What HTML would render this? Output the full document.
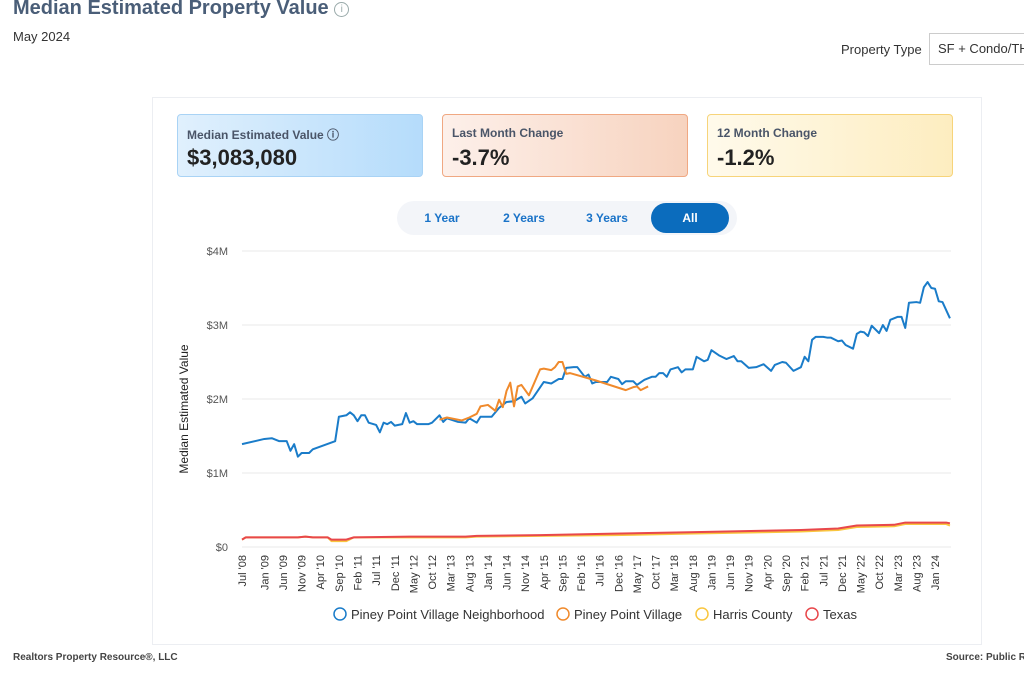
<!DOCTYPE html>
<html><head><meta charset="utf-8">
<style>
body{margin:0;width:1024px;height:673px;overflow:hidden;background:#fff;font-family:"Liberation Sans",sans-serif;position:relative}
.abs{position:absolute}
.kpi{position:absolute;top:114px;height:63px;width:246px;border-radius:4px;box-sizing:border-box}
.kpi .l{position:absolute;left:9px;top:11px;font-size:12px;color:#4a5568;font-weight:bold}
.kpi .v{position:absolute;left:9px;top:30px;font-size:22px;color:#222;font-weight:bold}
.seg{position:absolute;top:0;height:30px;line-height:30px;font-size:12px;color:#1a73c8;font-weight:bold;text-align:center}
</style></head><body>
<div class="abs" style="left:13px;top:-3px;font-size:20px;font-weight:bold;color:#4a5e78">Median Estimated Property Value <span style="display:inline-block;width:13px;height:13px;border:1px solid #9aa;border-radius:50%;font-size:10px;line-height:13px;text-align:center;color:#9aa;font-weight:normal;vertical-align:2px">i</span></div>
<div class="abs" style="left:13px;top:29px;font-size:13px;color:#333">May 2024</div>
<div class="abs" style="left:841px;top:42px;font-size:13px;color:#333">Property Type</div>
<div class="abs" style="left:929px;top:33px;width:110px;height:32px;border:1px solid #ccc;box-sizing:border-box;font-size:13px;line-height:30px;padding-left:8px;color:#333;white-space:nowrap">SF + Condo/TH</div>
<div class="abs" style="left:152px;top:97px;width:830px;height:548px;border:1px solid #eceef2;box-sizing:border-box"></div>
<div class="kpi" style="left:177px;background:linear-gradient(90deg,#e0f0fd,#b5dcfb);border:1px solid #a9d3f5">
<div class="l">Median Estimated Value ⓘ</div><div class="v">$3,083,080</div></div>
<div class="kpi" style="left:442px;background:linear-gradient(90deg,#fdf0ea,#f7d3bf);border:1px solid #f0a882">
<div class="l">Last Month Change</div><div class="v">-3.7%</div></div>
<div class="kpi" style="left:707px;background:linear-gradient(90deg,#fffaeb,#fdedc0);border:1px solid #f7d47a">
<div class="l">12 Month Change</div><div class="v">-1.2%</div></div>
<div class="abs" style="left:397px;top:201px;width:340px;height:34px;background:#f3f5f9;border-radius:17px">
<div class="seg" style="left:10px;top:2px;width:70px">1 Year</div>
<div class="seg" style="left:92px;top:2px;width:70px">2 Years</div>
<div class="seg" style="left:175px;top:2px;width:70px">3 Years</div>
<div class="seg" style="left:254px;top:2px;width:78px;background:#0b6cbd;color:#fff;border-radius:15px">All</div>
</div>
<svg class="abs" style="left:0;top:0" width="1024" height="673" id="chart"></svg>
<div class="abs" style="left:13px;top:652px;font-size:10px;font-weight:bold;color:#444">Realtors Property Resource®, LLC</div>
<div class="abs" style="left:946px;top:652px;font-size:10px;font-weight:bold;color:#444;white-space:nowrap">Source: Public Records</div>
<script>
const yTicks=[0,1,2,3,4];
const yTickLabels=["$0","$1M","$2M","$3M","$4M"];
const xTickMonths=[0,6,11,16,21,26,31,36,41,46,51,56,61,66,71,76,81,86,91,96,101,106,111,116,121,126,131,136,141,146,151,156,161,166,171,176,181,186];
const xTickLabels=["Jul '08","Jan '09","Jun '09","Nov '09","Apr '10","Sep '10","Feb '11","Jul '11","Dec '11","May '12","Oct '12","Mar '13","Aug '13","Jan '14","Jun '14","Nov '14","Apr '15","Sep '15","Feb '16","Jul '16","Dec '16","May '17","Oct '17","Mar '18","Aug '18","Jan '19","Jun '19","Nov '19","Apr '20","Sep '20","Feb '21","Jul '21","Dec '21","May '22","Oct '22","Mar '23","Aug '23","Jan '24"];
const neighMonths=[0,6,8,10,12,13,14,15,16,18,19,25,26,28,29,30,31,32,33,34,36,37,38,39,40,41,43,44,45,46,47,50,51,53,54,55,58,60,61,63,64,67,69,71,73,75,76,78,81,83,85,86,87,89,90,92,93,94,95,98,99,101,102,103,105,106,108,110,111,112,113,114,115,117,118,119,121,122,124,125,126,128,130,132,133,134,136,138,140,142,143,145,146,148,150,151,152,153,154,156,157,158,160,161,162,164,165,166,167,168,169,171,172,173,174,176,177,178,179,181,182,183,184,185,186,187,188,190];
const neighVals=[1.39,1.46,1.47,1.43,1.43,1.30,1.39,1.22,1.27,1.27,1.32,1.43,1.76,1.78,1.82,1.78,1.70,1.78,1.78,1.68,1.65,1.55,1.68,1.66,1.69,1.64,1.66,1.81,1.68,1.70,1.66,1.66,1.68,1.78,1.69,1.74,1.69,1.68,1.74,1.68,1.76,1.76,1.88,1.96,1.97,2.03,1.94,2.01,2.23,2.21,2.27,2.27,2.42,2.43,2.43,2.30,2.33,2.21,2.23,2.23,2.30,2.27,2.20,2.24,2.24,2.19,2.26,2.30,2.30,2.35,2.35,2.30,2.40,2.43,2.36,2.40,2.40,2.57,2.51,2.53,2.66,2.59,2.54,2.58,2.51,2.51,2.42,2.43,2.47,2.38,2.46,2.50,2.49,2.38,2.43,2.57,2.51,2.80,2.84,2.84,2.83,2.83,2.78,2.79,2.73,2.68,2.88,2.91,2.90,2.85,2.99,2.89,3.00,2.92,3.07,3.11,3.11,2.96,3.30,3.31,3.30,3.51,3.58,3.50,3.49,3.32,3.31,3.09];
const villageMonths=[53,55,59,61,63,64,66,68,69,70,71,72,73,74,75,77,80,81,83,84,85,86,87,88,95,103,105,106,107,109];
const villageVals=[1.72,1.75,1.71,1.75,1.80,1.90,1.92,1.84,1.99,1.89,2.11,2.22,1.90,2.17,2.19,2.05,2.40,2.41,2.39,2.43,2.50,2.50,2.34,2.35,2.25,2.12,2.16,2.17,2.12,2.17];
const harrisMonths=[0,1,15,17,19,23,24,28,30,45,60,63,80,100,120,140,150,160,165,175,178,189,190];
const harrisVals=[0.10,0.13,0.13,0.14,0.13,0.13,0.08,0.08,0.13,0.13,0.13,0.14,0.15,0.16,0.18,0.20,0.21,0.23,0.27,0.28,0.31,0.31,0.29];
const texasMonths=[0,1,15,17,19,23,24,28,30,45,60,63,80,100,120,140,150,160,165,175,178,189,190];
const texasVals=[0.10,0.13,0.13,0.14,0.13,0.13,0.10,0.10,0.13,0.14,0.14,0.15,0.16,0.18,0.20,0.22,0.23,0.25,0.29,0.30,0.33,0.33,0.32];
const NS="http://www.w3.org/2000/svg";
const svg=document.getElementById('chart');
const x=m=>242+m*3.726;
const y=v=>547-v*74;
function mk(t,a){const e=document.createElementNS(NS,t);for(const k in a)e.setAttribute(k,a[k]);svg.appendChild(e);return e;}
yTicks.forEach((v,i)=>{
  const g=mk('line',{x1:242,x2:951,y1:y(v),y2:y(v),stroke:'#e8e8e8','stroke-width':1});
  
  
  const t=mk('text',{x:228,y:y(v)+4,'text-anchor':'end','font-size':11,fill:'#555','font-family':'Liberation Sans'});
  t.textContent=yTickLabels[i];
  
  
});
const yt=mk('text',{transform:'translate(188,409) rotate(-90)','text-anchor':'middle','font-size':12,fill:'#222','font-family':'Liberation Sans'});
yt.textContent='Median Estimated Value';


xTickMonths.forEach((m,i)=>{
  const t=mk('text',{transform:`translate(${x(m)+4},555) rotate(-90)`,'text-anchor':'end','font-size':11,fill:'#333','font-family':'Liberation Sans'});
  t.textContent=xTickLabels[i];
  
  
});
function line(ms,vs,col,name){
  const p=mk('polyline',{points:ms.map((m,i)=>x(m)+','+y(vs[i])).join(' '),fill:'none',stroke:col,'stroke-width':2,'stroke-linejoin':'round'});
  
  
}
line(harrisMonths,harrisVals,'#f9c63f','harris-county-line');
line(texasMonths,texasVals,'#e8474b','texas-line');
line(neighMonths,neighVals,'#1a7cc9','piney-point-neighborhood-line');
line(villageMonths,villageVals,'#f08a2c','piney-point-village-line');
const legend=[["Piney Point Village Neighborhood",'#1a7cc9',333],["Piney Point Village",'#f08a2c',556],["Harris County",'#f9c63f',695],["Texas",'#e8474b',805]];
legend.forEach(l=>{
  const c=mk('circle',{cx:l[2]+7,cy:614,r:6,fill:'#fff',stroke:l[1],'stroke-width':1.5});
  
  
  const t=mk('text',{x:l[2]+18,y:619,'font-size':13,fill:'#333','font-family':'Liberation Sans'});
  t.textContent=l[0];
  
  
});
</script>
</body></html>
